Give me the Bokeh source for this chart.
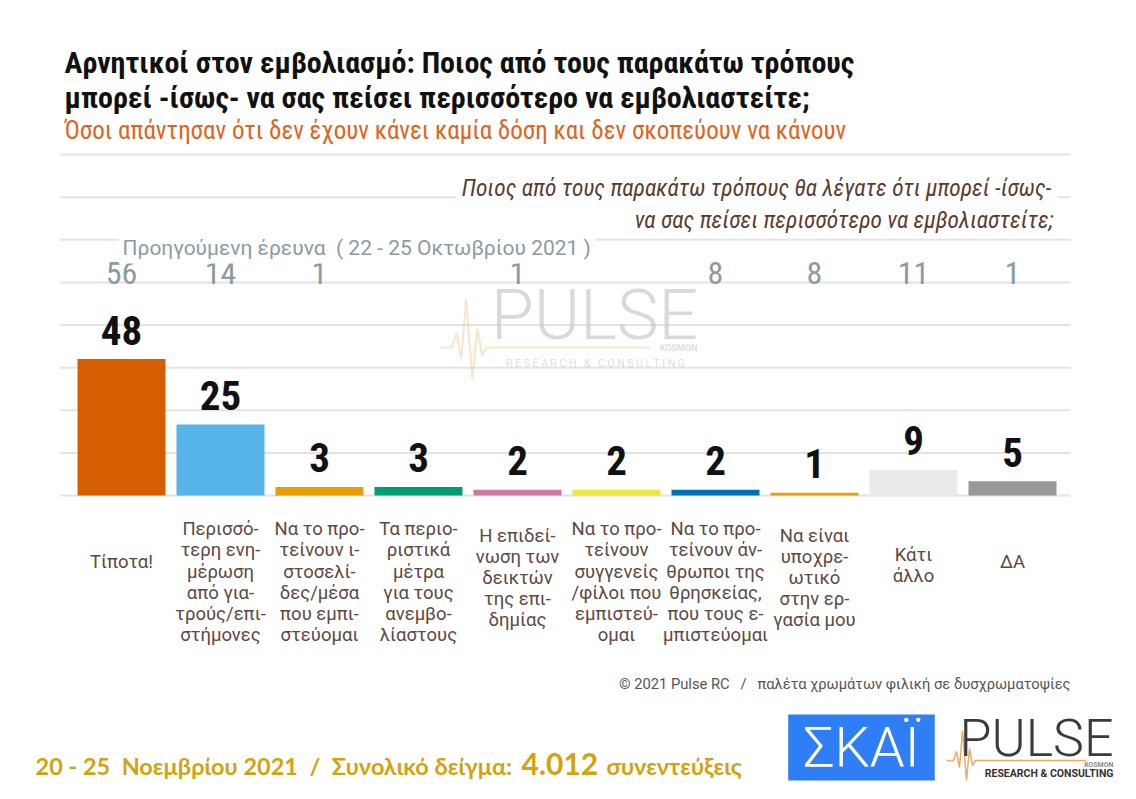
from bokeh.plotting import figure
from bokeh.models import Range1d, Label, LabelSet, ColumnDataSource
from bokeh.core.properties import value
from bokeh.embed import file_html
from bokeh.resources import INLINE

# ---------------- data ----------------
categories = [
    "Τίποτα!",
    "Περισσό-\nτερη ενη-\nμέρωση\nαπό για-\nτρούς/επι-\nστήμονες",
    "Να το προ-\nτείνουν ι-\nστοσελί-\nδες/μέσα\nπου εμπι-\nστεύομαι",
    "Τα περιο-\nριστικά\nμέτρα\nγια τους\nανεμβο-\nλίαστους",
    "Η επιδεί-\nνωση των\nδεικτών\nτης επι-\nδημίας",
    "Να το προ-\nτείνουν\nσυγγενείς\n/φίλοι που\nεμπιστεύ-\nομαι",
    "Να το προ-\nτείνουν άν-\nθρωποι της\nθρησκείας,\nπου τους ε-\nμπιστεύομαι",
    "Να είναι\nυποχρε-\nωτικό\nστην ερ-\nγασία μου",
    "Κάτι\nάλλο",
    "ΔΑ",
]
current = [48, 25, 3, 3, 2, 2, 2, 1, 9, 5]
previous = [56, 14, 1, None, 1, None, 8, 8, 11, 1]
bar_colors = ["#D55E00", "#56B4E9", "#E69F00", "#009E73", "#CC79A7",
              "#F0E442", "#0072B2", "#E69F00", "#EBEBEB", "#999999"]
grid_values = [0, 15, 30, 45, 60, 75, 90, 105, 120]

NB = "\u00a0"
title_lines = ["Αρνητικοί στον εμβολιασμό: Ποιος από τους παρακάτω τρόπους",
               "μπορεί -ίσως- να σας πείσει περισσότερο να εμβολιαστείτε;"]
subtitle = "Όσοι απάντησαν ότι δεν έχουν κάνει καμία δόση και δεν σκοπεύουν να κάνουν"
question_lines = ["Ποιος από τους παρακάτω τρόπους θα λέγατε ότι μπορεί -ίσως-",
                  "να σας πείσει περισσότερο να εμβολιαστείτε;"]
previous_label = "Προηγούμενη έρευνα" + NB * 2 + "( 22 - 25 Οκτωβρίου 2021 )"
copyright_text = "© 2021 Pulse RC" + NB * 3 + "/" + NB * 3 + "παλέτα χρωμάτων φιλική σε δυσχρωματοψίες"
footer_parts = ["20 - 25" + NB * 2 + "Νοεμβρίου 2021" + NB * 2 + "/" + NB * 2 + "Συνολικό δείγμα:",
                "4.012", "συνεντεύξεις"]

# ---------------- layout helpers (page pixels -> data) ----------------
W, H = 1120, 783
OX, OY = 0, 0
X0, PITCH = 121.0, 99.0
Y0, K = 495.0, 341.0 / 120.0


def dx(px):
    return (px - X0) / PITCH


def dy(py):
    return (Y0 - py) / K


def spaced(s):
    return NB.join(s)


# decorative pulse-line shape of the logo (offsets in px, relative)
PULSE_SHAPE = [(0, 0), (7, 0), (10, -9), (13, 7), (16, -30), (20, 20), (23, -12), (26, 5), (29, 0)]


def pulse_logo(x_left, y_mid, scale, length, color, alpha, width):
    xs = [dx(x_left + ox * scale) for ox, oy in PULSE_SHAPE] + [dx(x_left + length)]
    ys = [dy(y_mid + oy * scale) for ox, oy in PULSE_SHAPE] + [dy(y_mid)]
    p.line(xs, ys, line_color=color, line_alpha=alpha, line_width=width)


NARROW = "'Roboto Condensed', 'Liberation Sans Narrow', 'DejaVu Sans Condensed', Roboto, sans-serif"
ROBOTO = "Roboto, 'Noto Sans', sans-serif"
LIGHT = "'Roboto Light', 'Roboto Thin', Roboto, sans-serif"

p = figure(width=W, height=H, output_backend="svg", toolbar_location=None,
           x_range=Range1d(dx(OX), dx(OX + W)), y_range=Range1d(dy(OY + H), dy(OY)),
           x_axis_location=None, y_axis_location=None, min_border=0,
           outline_line_color=None, background_fill_color="white",
           border_fill_color="white")
p.grid.visible = False

# gridlines
p.segment(x0=[dx(60)] * len(grid_values), x1=[dx(1070)] * len(grid_values),
          y0=grid_values, y1=grid_values, line_color="#e3e3e3", line_width=2)

# watermark
pulse_logo(440, 347, 1.6, 210, "#f3c48f", 0.45, 2)
p.add_layout(Label(x=dx(594), y=dy(314), text="PULSE", text_align="center",
                   text_baseline="middle", text_font=LIGHT, text_font_size="70px",
                   text_color="#cccccc", text_alpha=0.75))
p.add_layout(Label(x=dx(697), y=dy(347), text="KOSMON", text_align="right",
                   text_baseline="middle", text_font=ROBOTO, text_font_size="9px",
                   text_font_style="bold", text_color="#e0e0e0"))
p.add_layout(Label(x=dx(595), y=dy(363),
                   text=spaced("RESEARCH") + NB * 3 + "&" + NB * 3 + spaced("CONSULTING"),
                   text_align="center", text_baseline="middle", text_font=LIGHT,
                   text_font_size="10.5px", text_color="#cfcfcf"))

# bars
src = ColumnDataSource(dict(
    x=list(range(len(categories))),
    top=current,
    color=bar_colors,
    label=[str(v) for v in current],
    cat=categories,
    cat_y=[dy(557 + 4.1 * (c.count("\n") + 1)) for c in categories],
))
p.vbar(x="x", top="top", bottom=0, width=88 / 99, fill_color="color",
       line_color=None, source=src)

# value labels
p.text(x="x", y="top", text="label", source=src, y_offset=-29,
       text_align="center", text_baseline="middle",
       text_font=value(NARROW), text_font_style="bold",
       text_font_size="41px", text_color="#111111")

# category labels
p.text(x="x", y="cat_y", text="cat", source=src, text_align="center",
       text_baseline="middle", text_font=value(ROBOTO), text_font_size="18.5px",
       text_line_height=0.96, text_color="#5e4843")

# previous survey
prev_src = ColumnDataSource(dict(
    x=[i for i, v in enumerate(previous) if v is not None],
    text=[str(v) for v in previous if v is not None],
))
p.add_layout(LabelSet(x="x", y=dy(272), text="text", source=prev_src,
                      text_align="center", text_baseline="middle",
                      text_font=value(NARROW), text_font_size="32px",
                      text_color="#8b9aa4"))
p.add_layout(Label(x=dx(118), y=dy(247), text=previous_label, text_align="left",
                   text_baseline="middle", text_font=ROBOTO, text_font_size="21px",
                   text_color="#8b9aa6", background_fill_color="white", padding=4))

# question (italic, right aligned)
p.add_layout(Label(x=dx(1057), y=dy(187), text=question_lines[0], text_align="right",
                   text_baseline="middle", text_font=NARROW, text_font_style="italic",
                   text_font_size="23.5px", text_color="#5b3b30",
                   background_fill_color="white", padding=6))
p.add_layout(Label(x=dx(1053), y=dy(219), text=question_lines[1], text_align="right",
                   text_baseline="middle", text_font=NARROW, text_font_style="italic",
                   text_font_size="23.5px", text_color="#5b3b30"))

# titles
p.add_layout(Label(x=dx(64), y=dy(62), text=title_lines[0], text_align="left",
                   text_baseline="middle", text_font=NARROW, text_font_style="bold",
                   text_font_size="30px", text_color="#111111"))
p.add_layout(Label(x=dx(64), y=dy(97), text=title_lines[1], text_align="left",
                   text_baseline="middle", text_font=NARROW, text_font_style="bold",
                   text_font_size="30px", text_color="#111111"))
p.add_layout(Label(x=dx(64), y=dy(130), text=subtitle, text_align="left",
                   text_baseline="middle", text_font=NARROW,
                   text_font_size="25px", text_color="#e2621b"))

# copyright
p.add_layout(Label(x=dx(1070), y=dy(683), text=copyright_text, text_align="right",
                   text_baseline="middle", text_font=ROBOTO, text_font_size="14.7px",
                   text_color="#555555"))

# footer
GOLD = "#d4a20e"
FOOT = "Lato, 'Open Sans', sans-serif"
p.add_layout(Label(x=dx(35), y=dy(765), text=footer_parts[0], text_align="left",
                   text_baseline="middle", text_font=FOOT, text_font_style="bold",
                   text_font_size="23.5px", text_color=GOLD))
p.add_layout(Label(x=dx(521), y=dy(763), text=footer_parts[1], text_align="left",
                   text_baseline="middle", text_font=FOOT, text_font_style="bold",
                   text_font_size="30px", text_color=GOLD))
p.add_layout(Label(x=dx(606), y=dy(765), text=footer_parts[2], text_align="left",
                   text_baseline="middle", text_font=FOOT, text_font_style="bold",
                   text_font_size="23.5px", text_color=GOLD))

# logos
p.add_layout(Label(x=dx(861), y=dy(747), text="ΣΚΑΪ", text_align="center",
                   text_baseline="middle", text_font=LIGHT, text_font_size="56px",
                   text_color="white", background_fill_color="#2f7ef5", padding=(15, 0)))
pulse_logo(946, 760, 1.0, 140, "#f0a050", 0.9, 1.5)
p.add_layout(Label(x=dx(1113), y=dy(738), text="PULSE", text_align="right",
                   text_baseline="middle", text_font=LIGHT, text_font_size="52px",
                   text_color="#3a3a3a", background_fill_color="white",
                   background_fill_alpha=0.0))
p.add_layout(Label(x=dx(1113), y=dy(764), text="KOSMON", text_align="right",
                   text_baseline="middle", text_font=ROBOTO, text_font_style="bold",
                   text_font_size="7px", text_color="#888888"))
p.add_layout(Label(x=dx(1113), y=dy(773), text="RESEARCH & CONSULTING", text_align="right",
                   text_baseline="middle", text_font=ROBOTO, text_font_style="bold",
                   text_font_size="10.5px", text_color="#333333"))

open("out.html", "w").write(file_html(p, INLINE))
